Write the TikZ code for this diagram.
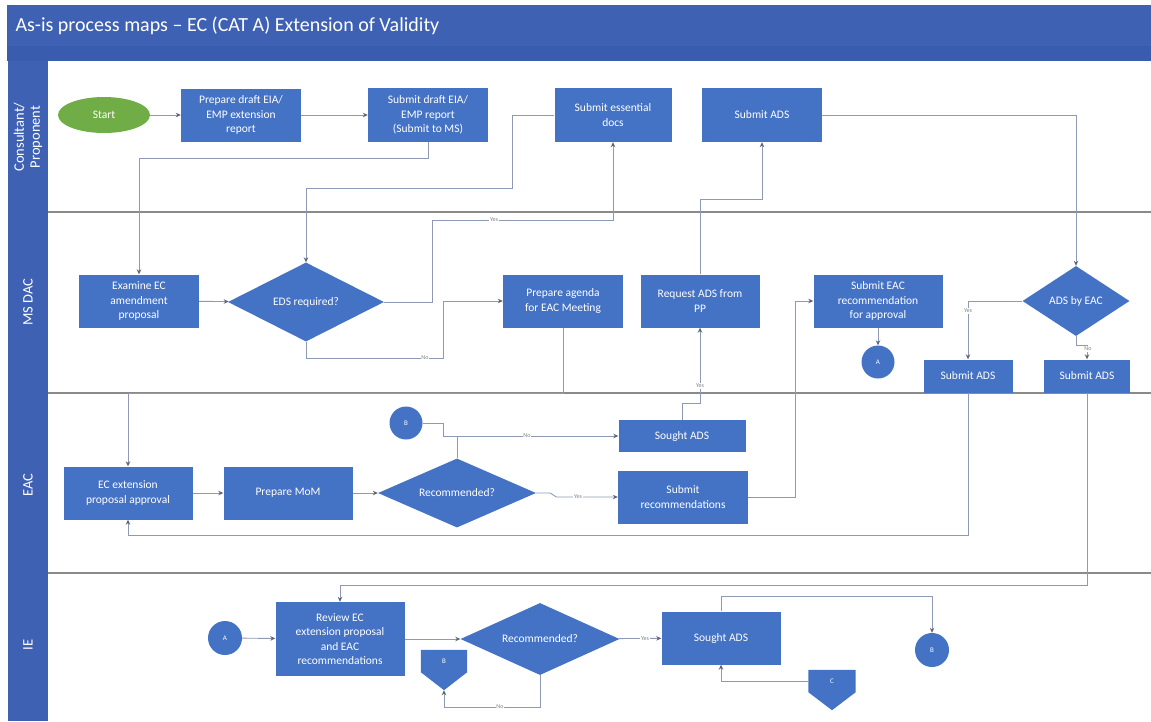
\documentclass[tikz,border=0pt]{standalone}
\usepackage{fontspec}
\setmainfont{Carlito}
\usetikzlibrary{shapes.geometric,arrows.meta,calc}

\definecolor{boxblue}{HTML}{4472C4}
\definecolor{barblue}{HTML}{3F61B4}
\definecolor{bardark}{HTML}{3A5CAE}
\definecolor{startgreen}{HTML}{70AD47}
\definecolor{flowline}{HTML}{8D99B5}
\definecolor{tipcol}{HTML}{5B6478}
\definecolor{laneline}{HTML}{8A8A8A}

\begin{document}
\begin{tikzpicture}[x=1pt,y=-1pt,
  boxfont/.style={font=\fontsize{11.5}{14.5}\selectfont},
  proc/.style={rectangle, fill=boxblue, text=white, boxfont, align=center, inner sep=1pt},
  dec/.style={diamond, aspect=2, fill=boxblue, text=white, boxfont, align=center, inner sep=0pt},
  startnode/.style={ellipse, fill=startgreen, text=white, boxfont, inner sep=0pt, minimum width=92pt, minimum height=36pt},
  conn/.style={circle, fill=boxblue, text=white, font=\fontsize{7}{8}\selectfont, inner sep=0pt, minimum size=33pt},
  offpage/.style={rectangle, text=white, font=\fontsize{7}{8}\selectfont, inner sep=0pt, minimum width=46pt, minimum height=22pt},
  flow/.style={draw=flowline, line width=0.9pt, -{Stealth[length=5pt,width=4.5pt,color=tipcol]}},
  mergeline/.style={draw=flowline, line width=0.9pt},
  lbl/.style={font=\fontsize{6}{7}\selectfont, text=gray, fill=white, inner sep=0.6pt},
  lanetitle/.style={rotate=90, text=white, font=\fontsize{14.5}{16}\selectfont, align=center}
]
\useasboundingbox (0,0) rectangle (1151,721);
\fill[white] (0,0) rectangle (1151,721);

% title bar and lane header column
\fill[barblue] (7,5) rectangle (1151,46);
\fill[bardark] (7,46) rectangle (1151,61);
\node[anchor=west, text=white, font=\fontsize{20}{22}\selectfont] (title) at (12,26)
  {As-is process maps – EC (CAT A) Extension of Validity};
\fill[barblue] (8,61) rectangle (48,721);

% swimlane separators
\foreach \yy in {212,393,573}
  \draw[laneline, line width=1.8pt] (48,\yy) -- (1151,\yy);

\node[lanetitle] (laneCP) at (28,137) {Consultant/\\Proponent};
\node[lanetitle] (laneMS) at (28,302) {MS DAC};
\node[lanetitle] (laneEAC) at (28,485) {EAC};
\node[lanetitle] (laneIE) at (28,645) {IE};

% Consultant / Proponent
\node[startnode] (start) at (104,115) {Start};
\node[proc, minimum width=120pt, minimum height=53pt] (prep) at (241,115) {Prepare draft EIA/\\EMP extension\\report};
\node[proc, minimum width=120pt, minimum height=54pt] (subd) at (428,115) {Submit draft EIA/\\EMP report\\(Submit to MS)};
\node[proc, minimum width=117pt, minimum height=54pt] (essd) at (613,115) {Submit essential\\docs};
\node[proc, minimum width=120pt, minimum height=54pt] (sads) at (762,115) {Submit ADS};

% MS DAC
\node[proc, minimum width=120pt, minimum height=53pt] (exam) at (139,301) {Examine EC\\amendment\\proposal};
\node[dec, minimum width=156pt, minimum height=79pt] (eds) at (306,302) {EDS required?};
\node[proc, minimum width=120pt, minimum height=53pt] (agen) at (563,301) {Prepare agenda\\for EAC Meeting};
\node[proc, minimum width=119pt, minimum height=53pt] (reqa) at (700,301) {Request ADS from\\PP};
\node[proc, minimum width=129pt, minimum height=53pt] (seac) at (878,301) {Submit EAC\\recommendation\\for approval};
\node[conn] (ca1) at (878,362) {A};
\node[dec, minimum width=107pt, minimum height=70pt] (adse) at (1076,301) {ADS by EAC};
\node[proc, minimum width=89pt, minimum height=33pt] (sadl) at (968,376) {Submit ADS};
\node[proc, minimum width=86pt, minimum height=33pt] (sadr) at (1087,376) {Submit ADS};

% EAC
\node[conn] (cb1) at (406,423) {B};
\node[proc, minimum width=127pt, minimum height=32pt] (sgt1) at (682,436) {Sought ADS};
\node[proc, minimum width=129pt, minimum height=53pt] (ecx) at (128,493) {EC extension\\proposal approval};
\node[proc, minimum width=129pt, minimum height=53pt] (mom) at (288,493) {Prepare MoM};
\node[dec, minimum width=158pt, minimum height=69pt] (rec1) at (457,493) {Recommended?};
\node[proc, minimum width=130pt, minimum height=53pt] (subr) at (683,497) {Submit\\recommendations};

% IE
\node[conn, minimum size=34pt] (ca2) at (225,638) {A};
\node[proc, minimum width=129pt, minimum height=74pt] (rev) at (340,639) {Review EC\\extension proposal\\and EAC\\recommendations};
\node[dec, minimum width=159pt, minimum height=72pt] (rec2) at (540,639) {Recommended?};
\node[proc, minimum width=119pt, minimum height=53pt] (sgt2) at (721,638) {Sought ADS};
\node[conn, minimum size=34pt] (cb2) at (932,650) {B};

% off-page connectors (pentagons pointing down)
\node[offpage] (pb) at (444,661) {};
\coordinate (pbtip) at ($(pb.south)+(0,18)$);
\fill[boxblue] (pb.north west) -- (pb.north east) -- (pb.south east) -- (pbtip) -- (pb.south west) -- cycle;
\node[text=white, font=\fontsize{7}{8}\selectfont] (pbtext) at (pb.center) {B};
\node[offpage, minimum width=47pt] (pc) at (832,681) {};
\coordinate (pctip) at ($(pc.south)+(0,18)$);
\fill[boxblue] (pc.north west) -- (pc.north east) -- (pc.south east) -- (pctip) -- (pc.south west) -- cycle;
\node[text=white, font=\fontsize{7}{8}\selectfont] (pctext) at (pc.center) {C};

% connectors
\draw[flow] (start) -- (prep);
\draw[flow] (prep) -- (subd);
\draw[flow] (subd.south) -- ++(0,16) -| (exam.north);
\draw[flow] (exam) -- (eds);
\draw[flow] (essd.west) -| (512,188) -| (eds.north);
\draw[flow] (eds.east) -| (432,220) -| (essd.south);
\node[lbl] at (494,220) {Yes};
\draw[flow] (eds.south) |- (443,358) |- (agen.west);
\node[lbl] at (425,358) {No};
\draw[flow] (agen.south) |- (128,393) -- (ecx.north);
\draw[flow] (reqa.north) -- ++(0,-75) -| (sads.south);
\draw[flow] (sgt1.north) -- ++(0,-16) -| (reqa.south);
\node[lbl] at (700,386) {Yes};
\draw[flow] (sads.east) -| (adse.north);
\draw[flow] (ecx) -- (mom);
\draw[flow] (mom) -- (rec1);
\draw[flow] (rec1.east) -- ++(14,0) -- ++(6,4) -- (subr.west);
\node[lbl] at (578,497) {Yes};
\draw[flow] (rec1.north) |- (sgt1.west);
\node[lbl] at (527,436) {No};
\draw[mergeline] (cb1.east) -| (443,436) -- (457,436);
\draw[flow] (subr.east) -- ++(47,0) |- (seac.west);
\draw[flow] (seac) -- (ca1);
\draw[flow] (adse.west) -| (sadl.north);
\node[lbl] at (968,311) {Yes};
\draw[flow] (adse.south) -- ++(0,9) -| (sadr.north);
\node[lbl] at (1088,349) {No};
\draw[flow] (sadl.south) |- (128,535) -- (ecx.south);
\draw[flow] (sadr.south) |- (340,585) -- (rev.north);
\draw[flow] (ca2) -- (rev);
\draw[flow] (rev) -- (rec2);
\draw[flow] (rec2) -- (sgt2);
\node[lbl] at (645,639) {Yes};
\draw[flow] (rec2.south) -- ++(0,32) -| (pbtip);
\node[lbl] at (500,707) {No};
\draw[flow] (sgt2.north) -- ++(0,-15) -| (cb2.north);
\draw[flow] (pc.west) -| (sgt2.south);
\end{tikzpicture}
\end{document}
